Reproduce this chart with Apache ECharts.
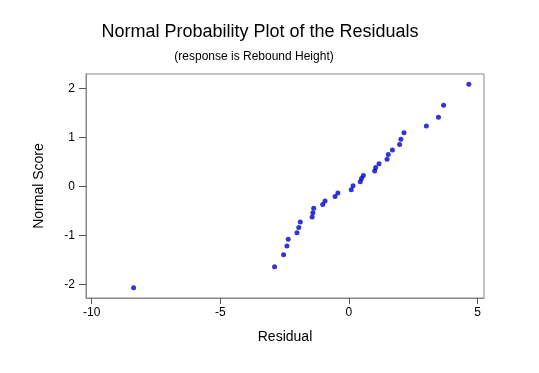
<!DOCTYPE html>
<html>
<head>
<meta charset="utf-8">
<script src="https://cdn.jsdelivr.net/npm/echarts@6/dist/echarts.min.js"></script>
<style>
html,body{margin:0;padding:0;background:#fff;}
#chart{width:539px;height:373px;}
</style>
</head>
<body>
<div id="chart"></div>
<script>
var residuals = [-8.37, -2.89, -2.54, -2.41, -2.36, -2.02, -1.95, -1.89, -1.43, -1.40, -1.37, -1.02, -0.93, -0.54, -0.43, 0.09, 0.16, 0.44, 0.49, 0.56, 1.00, 1.04, 1.17, 1.48, 1.53, 1.69, 1.97, 2.02, 2.14, 3.01, 3.48, 3.68, 4.66];
var normalScores = [-2.07, -1.64, -1.40, -1.22, -1.08, -0.95, -0.84, -0.73, -0.63, -0.54, -0.45, -0.37, -0.30, -0.21, -0.14, -0.07, 0.01, 0.09, 0.16, 0.22, 0.31, 0.38, 0.46, 0.55, 0.65, 0.74, 0.85, 0.96, 1.09, 1.23, 1.41, 1.65, 2.08];
var xTicks = [-10, -5, 0, 5];
var yTicks = [-2, -1, 0, 1, 2];

var pts = residuals.map(function (r, i) { return [r, normalScores[i]]; });
var font = 'Liberation Sans, Arial, sans-serif';
var chart = echarts.init(document.getElementById('chart'));
chart.setOption({
  backgroundColor: '#ffffff',
  animation: false,
  title: [
    { text: 'Normal Probability Plot of the Residuals', left: 255, textAlign: 'center', top: 18,
      textStyle: { fontFamily: font, fontSize: 18, fontWeight: 'normal', color: '#000' } },
    { text: '(response is Rebound Height)', left: 249, textAlign: 'center', top: 46,
      textStyle: { fontFamily: font, fontSize: 12, fontWeight: 'normal', color: '#000' } }
  ],
  grid: { left: 86, top: 74, width: 398, height: 224, show: true, borderColor: '#888', borderWidth: 1, containLabel: false },
  xAxis: {
    type: 'value', min: -10.22, max: 5.25,
    name: 'Residual', nameLocation: 'middle', nameGap: 32,
    nameTextStyle: { fontFamily: font, fontSize: 14, color: '#000' },
    axisLine: { show: true, onZero: false, lineStyle: { color: '#888' } },
    axisTick: { show: true, length: 6, lineStyle: { color: '#555' }, customValues: xTicks },
    axisLabel: { fontFamily: font, fontSize: 12, color: '#000', margin: 9, customValues: xTicks },
    splitLine: { show: false }
  },
  yAxis: {
    type: 'value', min: -2.28, max: 2.29,
    name: 'Normal Score', nameLocation: 'middle', nameGap: 40,
    nameTextStyle: { fontFamily: font, fontSize: 14, color: '#000' },
    axisLine: { show: true, onZero: false, lineStyle: { color: '#888' } },
    axisTick: { show: true, length: 7, lineStyle: { color: '#555' }, customValues: yTicks },
    axisLabel: { fontFamily: font, fontSize: 12, color: '#000', margin: 11, customValues: yTicks },
    splitLine: { show: false }
  },
  series: [{
    type: 'scatter', data: pts, symbol: 'circle', symbolSize: 5,
    itemStyle: { color: '#0000cc' }
  }]
});
</script>
</body>
</html>
